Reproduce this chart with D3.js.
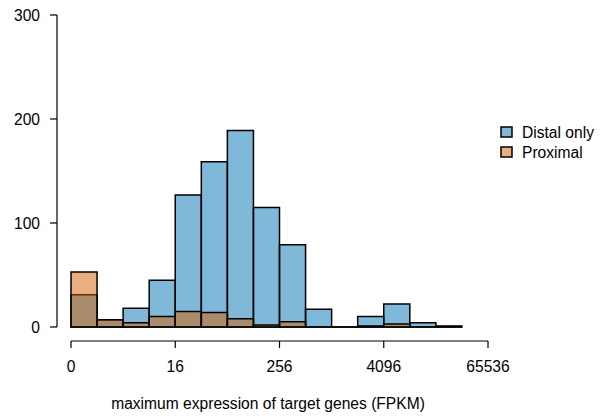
<!DOCTYPE html>
<html>
<head>
<meta charset="utf-8">
<script src="https://cdn.jsdelivr.net/npm/d3@7"></script>
<style>
  body { margin: 0; background: #fff; }
  text { font-family: "Liberation Sans", Arial, sans-serif; }
</style>
</head>
<body>
<div id="chart"></div>
<script>
// log2 bins (each bin covers [b, b+1) on the log2 scale)
var binStart = [0, 1, 2, 3, 4, 5, 6, 7, 8, 9, 10, 11, 12, 13, 14];
var distal = [31, 7, 18, 45, 127, 159, 189, 115, 79, 17, 0, 10, 22, 4, 1];
var proximal = [53, 7, 4, 10, 15, 14, 8, 2, 5, 0, 0, 1, 3, 0, 0];
var xTicks = [0, 4, 8, 12, 16];
var xTickLabels = ["0", "16", "256", "4096", "65536"];
var yTicks = [0, 100, 200, 300];
var seriesNames = ["Distal only", "Proximal"];
var seriesColors = ["rgb(0,114,178)", "rgb(213,94,0)"];

var fontSize = "15.6px";

var svg = d3.select("#chart").append("svg")
  .attr("width", 610)
  .attr("height", 416);

var x = d3.scaleLinear().domain([0, 16]).range([71, 488]);
var y = d3.scaleLinear().domain([0, 300]).range([327, 15]);

// bars: distal first, proximal on top, both half transparent
function barPath(b, v) {
  var x0 = x(b), x1 = x(b + 1), y0 = y(0), y1 = y(v);
  return "M" + x0 + "," + y0 + "V" + y1 + "H" + x1 + "V" + y0 + "Z";
}

[distal, proximal].forEach(function (vals, i) {
  svg.append("g").selectAll("path")
    .data(binStart)
    .enter()
    .append("path")
    .attr("d", function (b, j) { return barPath(b, vals[j]); })
    .attr("fill", seriesColors[i])
    .attr("fill-opacity", 0.5)
    .attr("stroke", "#000")
    .attr("stroke-width", 1.5);
});

// x axis (R style, offset below the plot)
var xAxis = svg.append("g").attr("transform", "translate(0,341)");
xAxis.append("line")
  .attr("x1", x(0)).attr("x2", x(16))
  .attr("stroke", "#000").attr("stroke-width", 1.2);
xAxis.selectAll(".tick")
  .data(xTicks)
  .enter()
  .append("line")
  .attr("x1", function (d) { return x(d); })
  .attr("x2", function (d) { return x(d); })
  .attr("y1", 0).attr("y2", 7)
  .attr("stroke", "#000").attr("stroke-width", 1.2);
xAxis.selectAll(".lab")
  .data(xTicks)
  .enter()
  .append("text")
  .attr("x", function (d) { return x(d); })
  .attr("y", 31)
  .attr("text-anchor", "middle")
  .style("font-size", fontSize)
  .text(function (d, i) { return xTickLabels[i]; });

svg.append("text")
  .attr("x", 268)
  .attr("y", 409)
  .attr("text-anchor", "middle")
  .style("font-size", fontSize)
  .text("maximum expression of target genes (FPKM)");

// y axis
var yAxis = svg.append("g").attr("transform", "translate(57,0)");
yAxis.append("line")
  .attr("y1", y(0)).attr("y2", y(300))
  .attr("stroke", "#000").attr("stroke-width", 1.2);
yAxis.selectAll(".tick")
  .data(yTicks)
  .enter()
  .append("line")
  .attr("y1", function (d) { return y(d); })
  .attr("y2", function (d) { return y(d); })
  .attr("x1", 0).attr("x2", -7)
  .attr("stroke", "#000").attr("stroke-width", 1.2);
yAxis.selectAll(".lab")
  .data(yTicks)
  .enter()
  .append("text")
  .attr("x", -17)
  .attr("y", function (d) { return y(d) + 5.5; })
  .attr("text-anchor", "end")
  .style("font-size", fontSize)
  .text(function (d) { return d; });

// legend
var legend = svg.append("g").attr("transform", "translate(501,127)");
seriesNames.forEach(function (name, i) {
  legend.append("rect")
    .attr("x", 0).attr("y", i * 20)
    .attr("width", 11).attr("height", 10)
    .attr("fill", seriesColors[i])
    .attr("fill-opacity", 0.5)
    .attr("stroke", "#000")
    .attr("stroke-width", 1.5);
  legend.append("text")
    .attr("x", 21).attr("y", i * 20 + 10.5)
    .style("font-size", fontSize)
    .text(name);
});
</script>
</body>
</html>
